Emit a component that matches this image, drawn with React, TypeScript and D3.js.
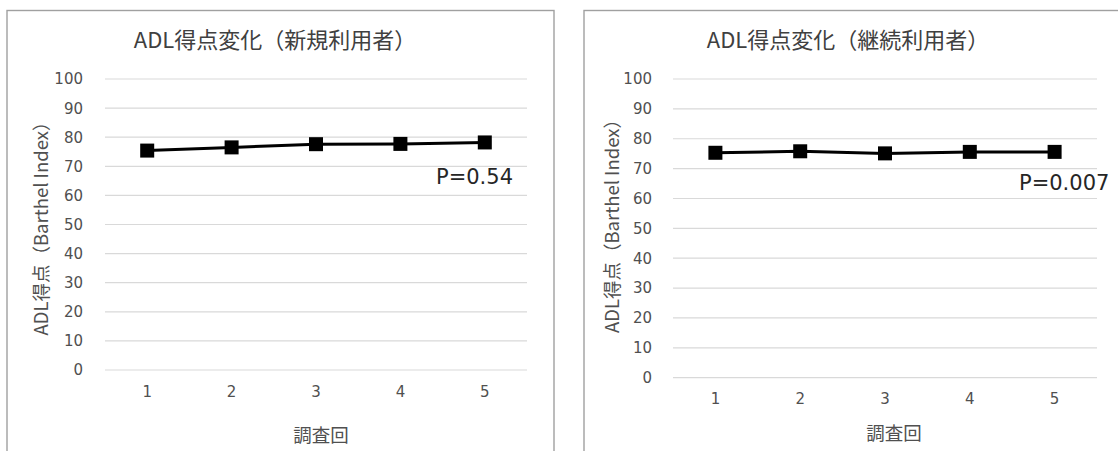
import React from "react";
import * as d3 from "d3";

const rounds = ["1", "2", "3", "4", "5"];
const yTicks = [0, 10, 20, 30, 40, 50, 60, 70, 80, 90, 100];
const newUsers = [75.4, 76.5, 77.6, 77.7, 78.2];
const contUsers = [75.3, 75.8, 75.1, 75.6, 75.6];
const titles = ["ADL得点変化（新規利用者）", "ADL得点変化（継続利用者）"];
const pLabels = ["P=0.54", "P=0.007"];
const yTitle = "ADL得点（Barthel Index）";
const xTitle = "調査回";

type Layout = {
  box: [number, number, number | null];
  x0: number; x1: number; yTop: number; yBot: number;
  titleX: number; xTitleX: number; xTitleY: number; xLabelY: number;
  yTitleX: number; yTitleY: number; tickRight: number;
  pX: number; pY: number;
};

const layouts: Layout[] = [
  { box: [7, 10.5, 554], x0: 105, x1: 527, yTop: 79, yBot: 370, titleX: 275, xTitleX: 321, xTitleY: 435, xLabelY: 392, yTitleX: 41, yTitleY: 224, tickRight: 83, pX: 436, pY: 184 },
  { box: [584, 10.5, null], x0: 673, x1: 1097, yTop: 79, yBot: 377.7, titleX: 848, xTitleX: 894, xTitleY: 433, xLabelY: 399, yTitleX: 612, yTitleY: 221.5, tickRight: 652, pX: 1019, pY: 190 },
];

const cjk = "'Noto Sans CJK JP', 'DejaVu Sans', sans-serif";
const latin = "'DejaVu Sans', 'Noto Sans CJK JP', sans-serif";

function Chart({ data, L, title, p }: { data: number[]; L: Layout; title: string; p: string }) {
  const x = d3.scaleBand<string>().domain(rounds).range([L.x0, L.x1]);
  const y = d3.scaleLinear().domain([0, 100]).range([L.yBot, L.yTop]);
  const line = d3
    .line<number>()
    .x((_, i) => (x(rounds[i]) as number) + x.bandwidth() / 2)
    .y((d) => y(d));
  const [bx, by, bx2] = L.box;
  const right = bx2 === null ? 1130 : bx2;
  return (
    <g>
      <rect x={bx} y={by} width={right - bx} height={460 - by} fill="#fff" stroke="#a0a0a0" strokeWidth={1.4} />
      <text x={L.titleX} y={48} textAnchor="middle" fontFamily={cjk} fontSize={22} fill="#404040">{title}</text>
      {yTicks.map((t) => (
        <g key={t}>
          <line x1={L.x0} x2={L.x1} y1={y(t)} y2={y(t)} stroke="#d9d9d9" strokeWidth={1.2} />
          <text x={L.tickRight} y={y(t)} dy="0.36em" textAnchor="end" fontFamily={latin} fontSize={15} fill="#505050">{t}</text>
        </g>
      ))}
      {rounds.map((r) => (
        <text key={r} x={(x(r) as number) + x.bandwidth() / 2} y={L.xLabelY} dy="0.36em" textAnchor="middle" fontFamily={latin} fontSize={15} fill="#505050">{r}</text>
      ))}
      <text x={L.xTitleX} y={L.xTitleY} dy="0.36em" textAnchor="middle" fontFamily={cjk} fontSize={18.5} fill="#505050">{xTitle}</text>
      <text transform={`translate(${L.yTitleX},${L.yTitleY}) rotate(-90)`} dy="0.36em" textAnchor="middle" fontFamily={cjk} fontSize={18.5} fill="#505050">{yTitle}</text>
      <path d={line(data) as string} fill="none" stroke="#000" strokeWidth={3} />
      {data.map((d, i) => (
        <rect key={i} x={(x(rounds[i]) as number) + x.bandwidth() / 2 - 7} y={y(d) - 7} width={14} height={14} fill="#000" />
      ))}
      <text x={L.pX} y={L.pY} fontFamily={latin} fontSize={21} fill="#262626">{p}</text>
    </g>
  );
}

export default function App() {
  const series = [newUsers, contUsers];
  return (
    <svg width={1118} height={451} style={{ position: "absolute", left: 0, top: 0, background: "#fff" }}>
      <rect x={0} y={0} width={1118} height={451} fill="#fff" />
      {series.map((s, i) => (
        <Chart key={i} data={s} L={layouts[i]} title={titles[i]} p={pLabels[i]} />
      ))}
    </svg>
  );
}
